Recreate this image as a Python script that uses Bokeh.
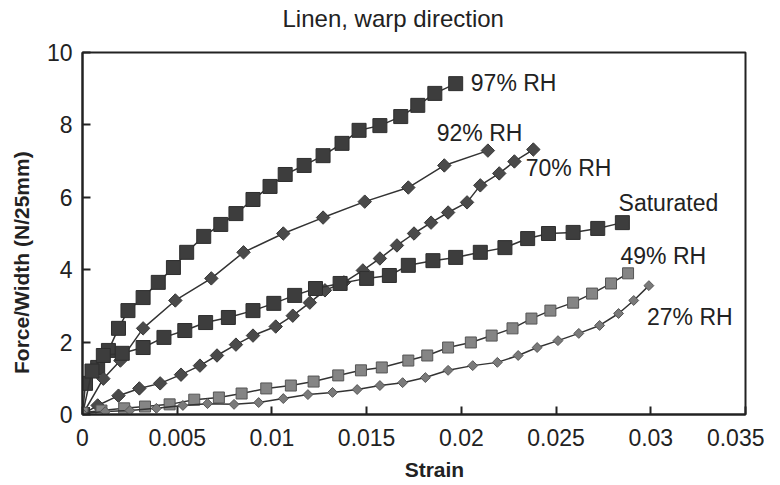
import math
from bokeh.plotting import figure
from bokeh.models import Range1d, FixedTicker
from bokeh.core.properties import value
from bokeh.embed import file_html
from bokeh.resources import INLINE

# ---- data ----
x_ticks = [0, 0.005, 0.01, 0.015, 0.02, 0.025, 0.03, 0.035]
x_tick_labels = ["0", "0.005", "0.01", "0.015", "0.02", "0.025", "0.03", "0.035"]
y_ticks = [0, 2, 4, 6, 8, 10]
y_tick_labels = ["0", "2", "4", "6", "8", "10"]

rh97_x = [0.0, 0.00016, 0.0008, 0.00137, 0.0019, 0.0024, 0.0032, 0.0040, 0.0048, 0.0055,
          0.0064, 0.0073, 0.0081, 0.0090, 0.0099, 0.0107, 0.0117, 0.0127, 0.0137, 0.0146,
          0.0157, 0.0168, 0.0177, 0.0186, 0.0197]
rh97_y = [0.0, 0.86, 1.30, 1.77, 2.38, 2.87, 3.23, 3.65, 4.06, 4.48,
          4.92, 5.25, 5.55, 5.94, 6.30, 6.63, 6.88, 7.15, 7.49, 7.85,
          7.98, 8.23, 8.54, 8.87, 9.14]

rh92_x = [0.0, 0.0011, 0.0020, 0.0032, 0.0049, 0.0068, 0.0085, 0.0106, 0.0127, 0.0149,
          0.0172, 0.0191, 0.0214]
rh92_y = [0.0, 0.99, 1.49, 2.38, 3.15, 3.76, 4.48, 5.00, 5.44, 5.88,
          6.27, 6.88, 7.29]

rh70_x = [0.0, 0.0008, 0.0019, 0.0030, 0.0041, 0.0052, 0.0062, 0.0071, 0.0081, 0.0090,
          0.0102, 0.0111, 0.0120, 0.0128, 0.0138, 0.0148, 0.0157, 0.0166, 0.0175, 0.0184,
          0.0193, 0.0203, 0.0210, 0.0220, 0.0228, 0.0238]
rh70_y = [0.0, 0.25, 0.52, 0.72, 0.86, 1.10, 1.35, 1.63, 1.93, 2.18,
          2.43, 2.73, 3.09, 3.43, 3.65, 3.98, 4.31, 4.67, 5.00, 5.30,
          5.58, 5.86, 6.33, 6.66, 6.99, 7.32]

sat_x = [0.0, 0.0005, 0.0011, 0.0021, 0.0032, 0.0043, 0.0054, 0.0065, 0.0077, 0.0090,
         0.0101, 0.0112, 0.0123, 0.0136, 0.0150, 0.0162, 0.0172, 0.0185, 0.0197, 0.0210,
         0.0223, 0.0235, 0.0246, 0.0259, 0.0272, 0.0285]
sat_y = [0.0, 1.20, 1.63, 1.69, 1.85, 2.13, 2.32, 2.54, 2.68, 2.87,
         3.07, 3.29, 3.48, 3.62, 3.76, 3.84, 4.12, 4.25, 4.34, 4.48,
         4.61, 4.86, 5.00, 5.03, 5.14, 5.30]

rh49_x = [0.0, 0.0010, 0.0022, 0.0033, 0.0046, 0.0059, 0.0072, 0.0084, 0.0097, 0.0110,
          0.0122, 0.0135, 0.0147, 0.0158, 0.0172, 0.0182, 0.0193, 0.0205, 0.0216, 0.0227,
          0.0237, 0.0247, 0.0259, 0.0269, 0.0279, 0.0288]
rh49_y = [0.05, 0.11, 0.17, 0.22, 0.28, 0.41, 0.47, 0.58, 0.72, 0.80,
          0.91, 1.08, 1.22, 1.30, 1.49, 1.63, 1.85, 1.99, 2.18, 2.38,
          2.65, 2.87, 3.09, 3.34, 3.62, 3.90]

rh27_x = [0.0, 0.0012, 0.0025, 0.0039, 0.0053, 0.0066, 0.0080, 0.0093, 0.0106, 0.0119,
          0.0132, 0.0145, 0.0157, 0.0169, 0.0181, 0.0193, 0.0206, 0.0219, 0.0230, 0.0240,
          0.0251, 0.0262, 0.0273, 0.0283, 0.0291, 0.0299]
rh27_y = [0.03, 0.08, 0.11, 0.17, 0.25, 0.30, 0.28, 0.33, 0.44, 0.55,
          0.61, 0.69, 0.80, 0.88, 1.02, 1.22, 1.35, 1.44, 1.63, 1.85,
          2.04, 2.24, 2.46, 2.79, 3.15, 3.56]

label_texts = ["97% RH", "92% RH", "70% RH", "Saturated", "49% RH", "27% RH"]
label_x = [0.0205, 0.0187, 0.0234, 0.0283, 0.0284, 0.0298]
label_y = [9.17, 7.79, 6.80, 5.83, 4.39, 2.68]

NBSP = "\u00a0"
x_axis_title = "Strain"
y_axis_title = "Force/Width (N/25mm)"

FONT = "Liberation Sans"
INK = "#222222"

p = figure(width=764, height=484, output_backend="svg", toolbar_location=None,
           x_range=Range1d(0, 0.035), y_range=Range1d(0, 10),
           min_border_left=82, min_border_right=19, min_border_top=52, min_border_bottom=70)

p.title.text = "Linen, warp direction"
p.title.align = "left"
p.title.offset = 200
p.title.vertical_align = "top"
p.title.text_font = FONT
p.title.text_font_size = "24px"
p.title.text_font_style = "normal"
p.title.text_color = INK
try:
    p.title.padding = dict(left=0, right=0, top=0, bottom=18)
    p.title.standoff = 2
except Exception:
    p.title.standoff = 24

p.xgrid.visible = False
p.ygrid.visible = False
p.outline_line_color = INK
p.outline_line_width = 2
p.background_fill_color = "white"
p.border_fill_color = "white"

p.xaxis.ticker = FixedTicker(ticks=x_ticks)
p.xaxis.major_label_overrides = {t: l for t, l in zip(x_ticks, x_tick_labels)}
p.yaxis.ticker = FixedTicker(ticks=y_ticks)
p.yaxis.major_label_overrides = {t: l for t, l in zip(y_ticks, y_tick_labels)}

for ax in (p.xaxis, p.yaxis):
    ax.axis_line_color = INK
    ax.axis_line_width = 2
    ax.major_tick_in = 8
    ax.major_tick_out = 0
    ax.major_tick_line_color = INK
    ax.major_tick_line_width = 2
    ax.minor_tick_line_color = None
    ax.major_label_text_font = FONT
    ax.major_label_text_font_size = "23px"
    ax.major_label_text_color = INK
    ax.axis_label_text_font = FONT
    ax.axis_label_text_font_size = "21px"
    ax.axis_label_text_font_style = "bold"
    ax.axis_label_text_color = INK

# non-breaking padding shifts the axis titles off the frame centre, as in the reference
p.xaxis.axis_label = NBSP * 7 + x_axis_title
p.yaxis.axis_label = y_axis_title + NBSP * 10
p.xaxis.major_label_standoff = 14
p.yaxis.major_label_standoff = 10
p.xaxis.axis_label_standoff = 9
p.yaxis.axis_label_standoff = 11

LINE = "#333333"
series = [
    (rh97_x, rh97_y, "square", 0.0, 14, "#3d3d3d", "#2e2e2e"),
    (rh92_x, rh92_y, "square", math.pi / 4, 9.5, "#4a4a4a", "#383838"),
    (rh70_x, rh70_y, "square", math.pi / 4, 9.5, "#4a4a4a", "#383838"),
    (sat_x, sat_y, "square", 0.0, 14, "#3d3d3d", "#2e2e2e"),
    (rh49_x, rh49_y, "square", 0.0, 11, "#858585", "#555555"),
    (rh27_x, rh27_y, "square", math.pi / 4, 7, "#7a7a7a", "#555555"),
]
for xs, ys, mk, ang, sz, fill, edge in series:
    p.line(xs, ys, line_color=LINE, line_width=1.5)
    p.scatter(xs, ys, marker=mk, angle=ang, size=sz, fill_color=fill, line_color=edge, line_width=1)

p.text(x=label_x, y=label_y, text=label_texts, text_font=value(FONT), text_font_size="23px",
       text_align="left", text_baseline="middle", text_color=INK)

open("out.html", "w").write(file_html(p, INLINE))
